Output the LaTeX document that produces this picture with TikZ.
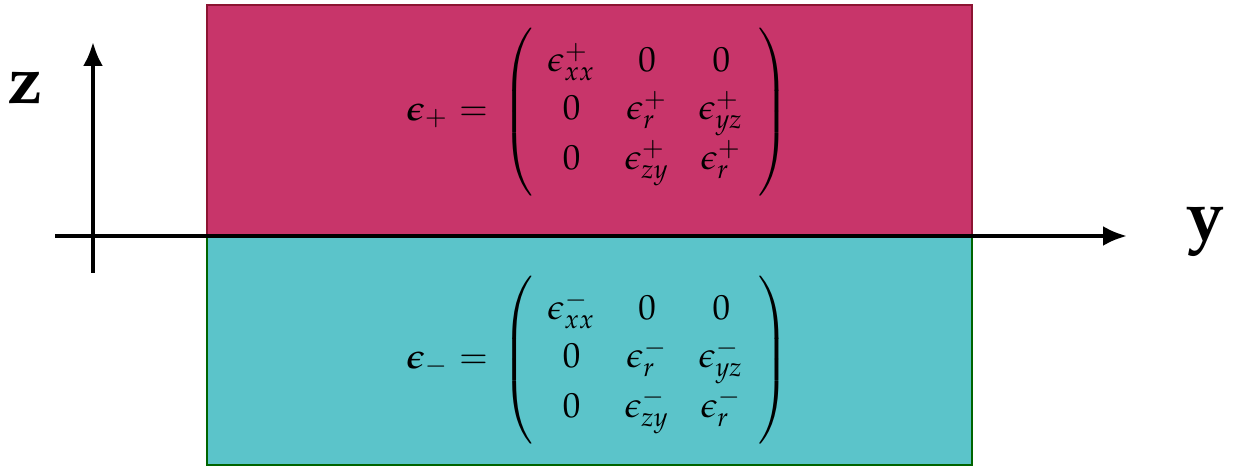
\documentclass[tikz,border=0pt]{standalone}
\usepackage{amsmath}
\usepackage{mathpazo}
\usepackage{bm}
\usetikzlibrary{arrows.meta}
\definecolor{topfill}{RGB}{200,53,106}
\definecolor{topedge}{RGB}{140,20,50}
\definecolor{botfill}{RGB}{91,196,202}
\definecolor{botedge}{RGB}{0,100,0}
\newcommand{\epsmat}[1]{\setlength{\arraycolsep}{3.6pt}\renewcommand{\arraystretch}{1.2}\delimitershortfall=0pt%
  \mskip2mu\left(\vcenter{\hbox{\rule{0pt}{37pt}}}\begin{array}{ccc} \epsilon^{#1}_{xx} & 0 & 0\\ 0 & \epsilon^{#1}_{r} & \epsilon^{#1}_{yz}\\ 0 & \epsilon^{#1}_{zy} & \epsilon^{#1}_{r}\end{array}\right)}
\tikzset{
  region/.style={line width=0.5pt},
  axis/.style={line width=1pt,-{Latex[length=6pt,width=5pt]}},
  axlabel/.style={font=\fontsize{17}{20}\selectfont\bfseries},
  eqn/.style={font=\fontsize{8.75}{10}\selectfont}
}
\begin{document}
\begin{tikzpicture}[x=0.25pt,y=-0.25pt]
\useasboundingbox (0,0) rectangle (1241,468);
\draw[region,fill=topfill,draw=topedge] (207,5) rectangle (972,235);
\draw[region,fill=botfill,draw=botedge] (207,235) rectangle (972,465);
\coordinate (hstart) at (55,236);
\coordinate (hend) at (1127,236);
\coordinate (vstart) at (93,273);
\coordinate (vend) at (93,42);
\draw[axis] (hstart) -- (hend);
\draw[axis] (vstart) -- (vend);
\node[axlabel] (zlab) at (25,88) {$\mathbf{z}$};
\node[axlabel] (ylab) at (1205,232) {$\mathbf{y}$};
\node[eqn] (eplus) at (598,112) {$\bm{\epsilon}_{+} = \epsmat{+}$};
\node[eqn] (eminus) at (598,360) {$\bm{\epsilon}_{-} = \epsmat{-}$};
\end{tikzpicture}
\end{document}
